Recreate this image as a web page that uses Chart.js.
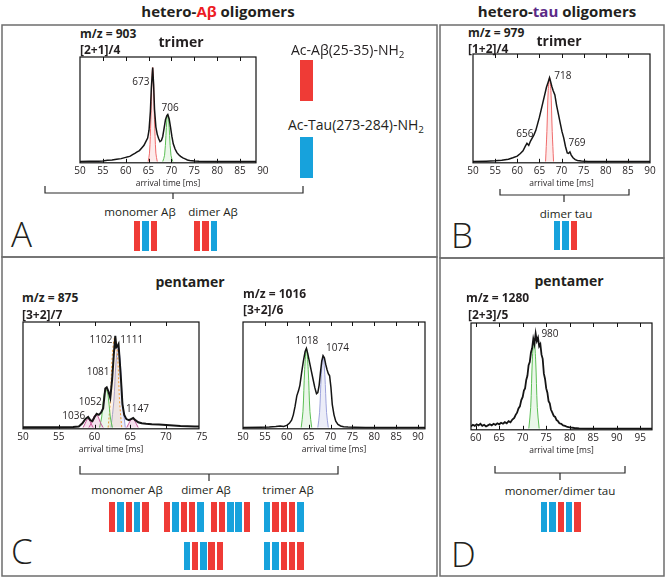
<!DOCTYPE html>
<html>
<head>
<meta charset="utf-8">
<script src="https://cdn.jsdelivr.net/npm/chart.js@4.4.1/dist/chart.umd.min.js"></script>
<style>
    body { margin: 0; background: #fff; }
    #figura { position: relative; width: 666px; height: 578px; overflow: hidden; font-family: 'Open Sans', sans-serif; color: #231f20; }
    .txt { position: absolute; white-space: nowrap; line-height: 1; transform: translateY(-50%); }
    .centro { transform: translate(-50%, -50%); }
    .barra { position: absolute; }
    canvas { position: absolute; }
    svg { position: absolute; left: 0; top: 0; }
    sub { font-size: 0.7em; vertical-align: -0.35em; line-height: 0; }
</style>
</head>
<body>
<div id="figura">
    <svg width="666" height="578">
        <g fill="none" stroke="#6d6d6d" stroke-width="1.5">
            <rect x="2" y="25" width="435" height="232"/>
            <rect x="2" y="257" width="435" height="319"/>
            <rect x="440" y="25" width="224" height="233"/>
            <rect x="440" y="258" width="224" height="318"/>
        </g>
        <g fill="none" stroke="#2b2b2b" stroke-width="1.2">
            <path d="M45,186 V193 H303 V186 M173,193 V199"/>
            <path d="M500,189 V195 H629 V189 M564,195 V202"/>
            <path d="M80,466 V474 H338 V466 M209,474 V481"/>
            <path d="M495,466 V473 H625 V466 M560,473 V480"/>
        </g>
    </svg>
</div>
<script>
// ---- A: trimer m/z 903 ----
const tempoA = [50, 52, 54, 55, 56, 57, 58, 59, 60, 60.5, 61, 61.5, 62, 62.5, 63, 63.5, 64, 64.4, 64.8, 65.1, 65.4, 65.6, 65.9, 66.1, 66.3, 66.6, 66.9, 67.2, 67.5, 67.8, 68.1, 68.4, 68.7, 69.0, 69.2, 69.5, 69.8, 70.1, 70.4, 70.8, 71.2, 71.6, 72.0, 72.5, 73.0, 73.5, 74, 75, 76, 78, 80, 84, 88.5];
const sinalA = [0, 0.002, 0.004, 0.006, 0.012, 0.015, 0.022, 0.028, 0.04, 0.045, 0.052, 0.066, 0.078, 0.092, 0.105, 0.13, 0.155, 0.19, 0.225, 0.3, 0.48, 0.7, 0.9, 0.74, 0.5, 0.33, 0.26, 0.22, 0.19, 0.2, 0.24, 0.32, 0.4, 0.44, 0.45, 0.41, 0.33, 0.24, 0.17, 0.12, 0.085, 0.065, 0.05, 0.035, 0.025, 0.015, 0.01, 0.005, 0.002, 0, 0, 0, 0];
const fitA673X = [64.9, 65.2, 65.5, 65.7, 65.9, 66.1, 66.3, 66.6, 66.9];
const fitA673Y = [0, 0.08, 0.4, 0.75, 0.9, 0.75, 0.4, 0.08, 0];
const fitA706X = [68.1, 68.5, 68.8, 69.0, 69.2, 69.4, 69.6, 69.9, 70.3];
const fitA706Y = [0, 0.06, 0.25, 0.4, 0.45, 0.4, 0.25, 0.06, 0];
const ticksA = [50, 55, 60, 65, 70, 75, 80, 85, 90];

// ---- B: trimer m/z 979 ----
const tempoB = [50, 53, 55, 56.5, 58, 59, 60, 60.7, 61.3, 61.8, 62.2, 62.6, 63.0, 63.4, 63.8, 64.2, 64.6, 65.0, 65.4, 65.8, 66.2, 66.6, 67.0, 67.3, 67.5, 67.8, 68.1, 68.5, 68.9, 69.3, 69.7, 70.1, 70.5, 70.9, 71.3, 71.6, 71.9, 72.2, 72.6, 73.1, 73.6, 74.5, 76, 80, 85, 90];
const sinalB = [0, 0.003, 0.006, 0.012, 0.022, 0.035, 0.05, 0.075, 0.1, 0.14, 0.17, 0.15, 0.19, 0.22, 0.25, 0.29, 0.35, 0.41, 0.48, 0.55, 0.62, 0.69, 0.74, 0.78, 0.75, 0.7, 0.66, 0.62, 0.52, 0.44, 0.36, 0.28, 0.22, 0.14, 0.08, 0.075, 0.09, 0.06, 0.035, 0.018, 0.01, 0.004, 0.001, 0, 0, 0];
const fitB718X = [66.4, 66.7, 67.0, 67.3, 67.6, 67.9, 68.2];
const fitB718Y = [0, 0.28, 0.66, 0.78, 0.66, 0.28, 0];
const ticksB = [50, 55, 60, 65, 70, 75, 80, 85, 90];

// ---- C: pentamer m/z 875 ----
const tempoC1 = [50, 54, 57, 57.8, 58.3, 58.7, 59.1, 59.4, 59.7, 60.0, 60.3, 60.6, 60.9, 61.2, 61.5, 61.7, 61.95, 62.2, 62.45, 62.7, 62.9, 63.05, 63.2, 63.35, 63.5, 63.7, 63.9, 64.15, 64.45, 64.8, 65.1, 65.4, 65.7, 66.1, 66.6, 67.2, 68, 69, 70, 71, 72, 73, 74, 74.6];
const sinalC1 = [0.002, 0.003, 0.005, 0.01, 0.04, 0.08, 0.1, 0.07, 0.06, 0.1, 0.13, 0.12, 0.14, 0.18, 0.37, 0.38, 0.34, 0.28, 0.45, 0.7, 0.87, 0.76, 0.77, 0.79, 0.65, 0.45, 0.22, 0.12, 0.08, 0.07, 0.08, 0.09, 0.07, 0.05, 0.04, 0.035, 0.03, 0.028, 0.025, 0.02, 0.015, 0.012, 0.01, 0.01];
const fitC1036X = [58.4, 58.7, 58.95, 59.1, 59.25, 59.5, 59.8];
const fitC1036Y = [0, 0.04, 0.075, 0.08, 0.075, 0.04, 0];
const fitC1052X = [59.2, 59.6, 59.95, 60.2, 60.45, 60.8, 61.2];
const fitC1052Y = [0, 0.05, 0.11, 0.12, 0.11, 0.05, 0];
const fitC1081X = [60.7, 61.0, 61.3, 61.6, 61.9, 62.2, 62.5];
const fitC1081Y = [0, 0.1, 0.3, 0.36, 0.3, 0.1, 0];
const fitC1102X = [61.9, 62.2, 62.5, 62.85, 63.2, 63.5, 63.8];
const fitC1102Y = [0, 0.25, 0.7, 0.86, 0.7, 0.25, 0];
const fitC1111X = [62.3, 62.7, 63.0, 63.3, 63.6, 63.9, 64.3];
const fitC1111Y = [0, 0.25, 0.62, 0.76, 0.62, 0.25, 0];
const fitC1147X = [64.5, 64.8, 65.1, 65.3, 65.5, 65.8, 66.1];
const fitC1147Y = [0, 0.04, 0.075, 0.085, 0.075, 0.04, 0];
const ticksC1 = [50, 55, 60, 65, 70, 75];

// ---- C: pentamer m/z 1016 ----
const tempoC2 = [50, 54, 56, 57.5, 58.5, 59.3, 60.0, 60.6, 61.1, 61.5, 61.9, 62.3, 62.7, 63.0, 63.4, 63.8, 64.2, 64.5, 64.8, 65.2, 65.6, 66.0, 66.4, 66.8, 67.1, 67.4, 67.7, 68.0, 68.3, 68.6, 68.9, 69.2, 69.5, 69.8, 70.1, 70.4, 70.8, 71.2, 71.7, 72.3, 73.0, 74, 75.5, 78, 82, 86, 91.6];
const sinalC2 = [0, 0.003, 0.006, 0.01, 0.015, 0.01, 0.02, 0.04, 0.07, 0.12, 0.2, 0.3, 0.35, 0.4, 0.52, 0.63, 0.72, 0.75, 0.7, 0.62, 0.54, 0.46, 0.38, 0.32, 0.33, 0.4, 0.52, 0.63, 0.68, 0.66, 0.6, 0.55, 0.51, 0.49, 0.38, 0.22, 0.12, 0.06, 0.03, 0.015, 0.008, 0.004, 0.002, 0, 0, 0, 0];
const fitC1018X = [63.3, 63.7, 64.1, 64.5, 64.9, 65.3, 65.7];
const fitC1018Y = [0, 0.15, 0.55, 0.75, 0.55, 0.15, 0];
const fitC1074X = [67.1, 67.5, 67.9, 68.3, 68.7, 69.1, 69.5];
const fitC1074Y = [0, 0.14, 0.5, 0.68, 0.5, 0.14, 0];
const ticksC2 = [50, 55, 60, 65, 70, 75, 80, 85, 90];

// ---- D: pentamer m/z 1280 ----
const tempoD = [59, 59.4, 59.8, 60.2, 60.6, 61.0, 61.4, 61.8, 62.2, 62.6, 63.0, 63.4, 63.8, 64.2, 64.6, 65.0, 65.4, 65.8, 66.2, 66.6, 67.0, 67.4, 67.8, 68.2, 68.5, 68.8, 69.1, 69.4, 69.7, 70.0, 70.25, 70.5, 70.75, 71.0, 71.25, 71.5, 71.75, 72.0, 72.25, 72.5, 72.75, 73.0, 73.25, 73.5, 73.75, 74.0, 74.25, 74.5, 74.75, 75.0, 75.25, 75.5, 75.75, 76.0, 76.3, 76.6, 76.9, 77.2, 77.5, 77.8, 78.2, 78.6, 79.0, 79.5, 80, 81, 82, 84, 88, 92, 97.5];
const sinalD = [0.02, 0.035, 0.025, 0.04, 0.03, 0.045, 0.025, 0.035, 0.02, 0.03, 0.04, 0.03, 0.045, 0.035, 0.05, 0.04, 0.055, 0.045, 0.06, 0.05, 0.07, 0.06, 0.085, 0.1, 0.13, 0.15, 0.19, 0.21, 0.27, 0.3, 0.36, 0.38, 0.46, 0.5, 0.6, 0.63, 0.72, 0.76, 0.85, 0.8, 0.9, 0.83, 0.86, 0.78, 0.8, 0.7, 0.66, 0.52, 0.47, 0.38, 0.34, 0.26, 0.24, 0.18, 0.15, 0.12, 0.11, 0.08, 0.07, 0.05, 0.045, 0.03, 0.025, 0.015, 0.01, 0.005, 0.002, 0, 0, 0, 0];
const fitD980X = [71.3, 71.7, 72.05, 72.4, 72.75, 73.1, 73.5];
const fitD980Y = [0, 0.2, 0.65, 0.85, 0.65, 0.2, 0];
const ticksD = [60, 65, 70, 75, 80, 85, 90, 95];

// bar schemes: R = Ac-Abeta(25-35)-NH2, B = Ac-Tau(273-284)-NH2
const esquemaA = ['RBR', 'RRB'];
const esquemaB = ['BBR'];
const esquemaC1 = ['RBRBR', 'RBRRB', 'RRBBR', 'BRRRB'];
const esquemaC2 = ['BRBRR', 'BBRRR'];
const esquemaD = ['BBRBR'];

const VERMELHO = '#ef3b36';
const AZUL = '#17a2dc';
const FONTE = "'Open Sans', sans-serif";
const fig = document.getElementById('figura');

function pontos(xs, ys) {
    return xs.map((x, i) => ({ x: x, y: ys[i] }));
}

function texto(html, x, y, estilo, centro) {
    const d = document.createElement('div');
    d.className = centro ? 'txt centro' : 'txt';
    d.innerHTML = html;
    d.style.cssText += `left:${x}px;top:${y}px;${estilo || ''}`;
    fig.appendChild(d);
}

function barras(x, y, seq, h, largura) {
    seq.split('').forEach((c, i) => {
        const d = document.createElement('div');
        d.className = 'barra';
        d.style.cssText = `left:${x + i * 8.33}px;top:${y}px;width:${largura || 6.4}px;height:${h}px;background:${c === 'R' ? VERMELHO : AZUL}`;
        fig.appendChild(d);
    });
}

// box, inward ticks and peak labels
const molduraPlugin = {
    id: 'moldura',
    afterDatasetsDraw(chart, args, opts) {
        const { ctx, chartArea: a, scales: { x, y } } = chart;
        ctx.save();
        ctx.strokeStyle = '#111';
        ctx.lineWidth = 1.2;
        ctx.strokeRect(a.left, a.top, a.width, a.height);
        ctx.lineWidth = 1;
        x.ticks.forEach(t => {
            if (t.value <= x.min || t.value >= x.max) return;
            const px = Math.round(x.getPixelForValue(t.value)) + 0.5;
            ctx.beginPath();
            ctx.moveTo(px, a.top); ctx.lineTo(px, a.top + 4);
            ctx.moveTo(px, a.bottom); ctx.lineTo(px, a.bottom - 4);
            ctx.stroke();
        });
        ctx.fillStyle = '#231f20';
        ctx.font = `10px ${FONTE}`;
        ctx.textAlign = 'center';
        ctx.textBaseline = 'middle';
        (opts.notas || []).forEach(n => {
            ctx.fillText(n.texto, x.getPixelForValue(n.x), y.getPixelForValue(n.y));
        });
        ctx.restore();
    }
};

function grafico(caixa, xMin, xMax, marcas, traco, ajustes, notas, espessura) {
    const padL = 16, padR = 16, padT = 4, eixoH = 23;
    const cv = document.createElement('canvas');
    const w = caixa.w + padL + padR;
    const h = caixa.h + padT + eixoH;
    cv.width = w; cv.height = h;
    cv.style.left = (caixa.left - padL) + 'px';
    cv.style.top = (caixa.top - padT) + 'px';
    cv.style.width = w + 'px'; cv.style.height = h + 'px';
    fig.appendChild(cv);

    const datasets = [{
        data: traco,
        borderColor: '#151515',
        borderWidth: espessura || 1.5,
        showLine: true,
        pointRadius: 0,
        tension: 0
    }];
    ajustes.forEach(f => {
        datasets.push({
            data: f.dados,
            borderColor: f.cor,
            backgroundColor: f.fundo,
            borderWidth: 1,
            borderDash: f.tracejado ? [2, 2] : [],
            fill: 'origin',
            showLine: true,
            pointRadius: 0,
            tension: 0.35
        });
    });

    new Chart(cv, {
        type: 'scatter',
        data: { datasets: datasets },
        options: {
            responsive: false,
            animation: false,
            devicePixelRatio: 1,
            layout: { padding: { left: padL, right: padR, top: padT, bottom: 0 } },
            plugins: { legend: { display: false }, tooltip: { enabled: false }, moldura: { notas: notas } },
            scales: {
                x: {
                    type: 'linear',
                    min: xMin,
                    max: xMax,
                    afterBuildTicks: sc => { sc.ticks = marcas.map(v => ({ value: v })); },
                    grid: { display: false, drawTicks: false },
                    border: { display: false },
                    ticks: { color: '#231f20', padding: 3, autoSkip: false, maxRotation: 0, font: { family: FONTE, size: 10, lineHeight: 1 } },
                    title: { display: true, text: 'arrival time [ms]', color: '#231f20', padding: { top: 0, bottom: 0 }, font: { family: FONTE, size: 8.5 } }
                },
                y: { display: false, min: -0.012, max: 1 }
            }
        },
        plugins: [molduraPlugin]
    });
}

const VERDE = { cor: '#5cbf55', fundo: 'rgba(92,191,85,0.12)' };
const ROSA = { cor: '#c85a9c', fundo: 'rgba(200,90,156,0.18)' };
const LILAS = { cor: '#9ea3dc', fundo: 'rgba(158,163,220,0.2)' };
const VERM = { cor: '#ef6a6a', fundo: 'rgba(239,59,54,0.1)' };
const LARANJA = { cor: '#f39a36', fundo: 'rgba(243,154,54,0.12)', tracejado: true };

function ajuste(estilo, xs, ys) {
    return Object.assign({ dados: pontos(xs, ys) }, estilo);
}

// panel A
grafico({ left: 80, top: 57, w: 176, h: 109 }, 50, 88.5, ticksA, pontos(tempoA, sinalA),
    [ajuste(VERM, fitA673X, fitA673Y), ajuste(VERDE, fitA706X, fitA706Y)],
    [{ texto: '673', x: 63.3, y: 0.76 }, { texto: '706', x: 69.7, y: 0.51 }]);

// panel B
grafico({ left: 473, top: 54, w: 177, h: 112 }, 50, 90, ticksB, pontos(tempoB, sinalB),
    [ajuste(VERM, fitB718X, fitB718Y)],
    [{ texto: '718', x: 70.3, y: 0.79 }, { texto: '656', x: 61.7, y: 0.25 }, { texto: '769', x: 73.5, y: 0.17 }]);

// panel C left
grafico({ left: 23, top: 322, w: 176, h: 110 }, 50, 74.6, ticksC1, pontos(tempoC1, sinalC1),
    [ajuste(ROSA, fitC1036X, fitC1036Y), ajuste(ROSA, fitC1052X, fitC1052Y), ajuste(VERDE, fitC1081X, fitC1081Y),
     ajuste(LARANJA, fitC1102X, fitC1102Y), ajuste(LILAS, fitC1111X, fitC1111Y), ajuste(ROSA, fitC1147X, fitC1147Y)],
    [{ texto: '1102', x: 60.9, y: 0.83 }, { texto: '1111', x: 65.2, y: 0.83 }, { texto: '1081', x: 60.5, y: 0.52 },
     { texto: '1052', x: 59.4, y: 0.24 }, { texto: '1036', x: 57.1, y: 0.11 }, { texto: '1147', x: 66.0, y: 0.17 }], 2);

// panel C right
grafico({ left: 243, top: 322, w: 182, h: 110 }, 50, 91.6, ticksC2, pontos(tempoC2, sinalC2),
    [ajuste(VERDE, fitC1018X, fitC1018Y), ajuste(LILAS, fitC1074X, fitC1074Y)],
    [{ texto: '1018', x: 64.6, y: 0.82 }, { texto: '1074', x: 71.6, y: 0.75 }]);

// panel D
grafico({ left: 471, top: 323, w: 181, h: 110 }, 59, 97.5, ticksD, pontos(tempoD, sinalD),
    [ajuste(VERDE, fitD980X, fitD980Y)],
    [{ texto: '980', x: 75.8, y: 0.89 }], 1.8);

// headers and labels
texto('hetero-<span style="color:#ed1c24">Aβ</span> oligomers', 218, 11, 'font-weight:bold;font-size:15px', true);
texto('hetero-<span style="color:#5b2a86">tau</span> oligomers', 557, 11, 'font-weight:bold;font-size:15px', true);

const negrito = 'font-weight:bold;font-size:12px';
texto('m/z = 903', 80, 34, negrito);
texto('[2+1]/4', 80, 50, negrito);
texto('trimer', 181, 42, 'font-weight:bold;font-size:14px', true);
texto('m/z = 979', 468, 33, negrito);
texto('[1+2]/4', 468, 49, negrito);
texto('trimer', 559, 41, 'font-weight:bold;font-size:14px', true);
texto('pentamer', 190, 282, 'font-weight:bold;font-size:14px', true);
texto('m/z = 875', 22, 298, negrito);
texto('[3+2]/7', 22, 315, negrito);
texto('m/z = 1016', 243, 294, negrito);
texto('[3+2]/6', 243, 310, negrito);
texto('pentamer', 569, 281, 'font-weight:bold;font-size:14px', true);
texto('m/z = 1280', 466, 298, negrito);
texto('[2+3]/5', 468, 315, negrito);

// legend of peptides
texto('Ac-Aβ(25-35)-NH<sub>2</sub>', 291, 50, 'font-size:14px');
texto('Ac-Tau(273-284)-NH<sub>2</sub>', 288, 125, 'font-size:14px');
barras(300, 60, 'R', 41, 13);
barras(300, 137, 'B', 41, 13);

const normal = 'font-size:11.6px';
texto('monomer Aβ', 140, 212, normal, true);
texto('dimer Aβ', 213, 212, normal, true);
texto('dimer tau', 566, 214, normal, true);
texto('monomer Aβ', 127, 490, normal, true);
texto('dimer Aβ', 206, 490, normal, true);
texto('trimer Aβ', 288, 490, normal, true);
texto('monomer/dimer tau', 560, 491, normal, true);

// oligomer schemes
barras(134, 221, esquemaA[0], 30);
barras(194, 221, esquemaA[1], 30);
barras(554, 221, esquemaB[0], 29);
barras(109, 502, esquemaC1[0], 30);
barras(164, 502, esquemaC1[1], 30);
barras(210.5, 502, esquemaC1[2], 30);
barras(264, 502, esquemaC1[3], 30);
barras(183.5, 542, esquemaC2[0], 28);
barras(264, 542, esquemaC2[1], 28);
barras(541, 502, esquemaD[0], 30);

// panel letters
const letra = 'font-size:35px;font-weight:300';
texto('A', 11, 233, letra);
texto('B', 451, 234, letra);
texto('C', 11, 550, letra);
texto('D', 451, 553, letra);
</script>
</body>
</html>
